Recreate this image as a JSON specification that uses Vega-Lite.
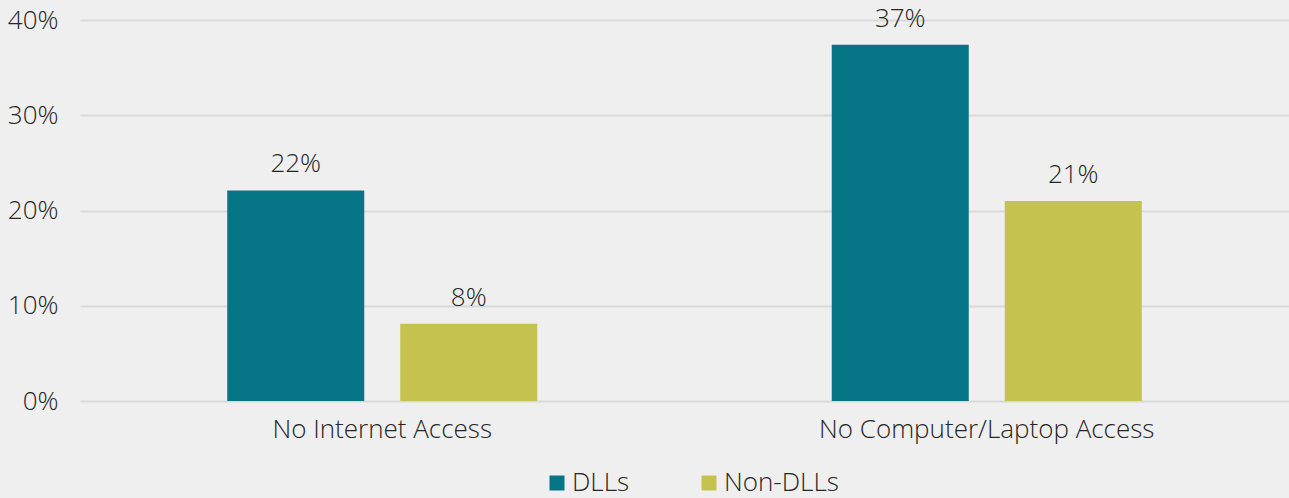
{
  "$schema": "https://vega.github.io/schema/vega-lite/v6.json",
  "width": 1209,
  "height": 381,
  "autosize": {"type": "none"},
  "padding": {"left": 80, "top": 20, "right": 0, "bottom": 97},
  "background": "#efefef",
  "config": {
    "view": {"stroke": null},
    "font": "Open Sans",
    "axis": {"labelFont": "Open Sans", "labelFontWeight": 300, "labelColor": "#262626", "labelFontSize": 26, "labelLimit": 0},
    "legend": {"labelFont": "Open Sans", "labelFontWeight": 300, "labelColor": "#262626", "labelFontSize": 26, "labelLimit": 0}
  },
  "data": {
    "values": [
      {"category": "No Internet Access", "group": "DLLs", "value": 0.221},
      {"category": "No Internet Access", "group": "Non-DLLs", "value": 0.081},
      {"category": "No Computer/Laptop Access", "group": "DLLs", "value": 0.374},
      {"category": "No Computer/Laptop Access", "group": "Non-DLLs", "value": 0.21}
    ]
  },
  "encoding": {
    "x": {
      "field": "category",
      "type": "nominal",
      "sort": ["No Internet Access", "No Computer/Laptop Access"],
      "scale": {"paddingInner": 0, "paddingOuter": 0},
      "axis": {"title": null, "domain": false, "ticks": false, "labelAngle": 0, "labelPadding": 15}
    },
    "xOffset": {
      "field": "group",
      "type": "nominal",
      "sort": ["DLLs", "Non-DLLs"],
      "scale": {"paddingInner": 0.208, "paddingOuter": 0.851}
    },
    "y": {
      "field": "value",
      "type": "quantitative",
      "scale": {"domain": [0, 0.4], "nice": false},
      "axis": {
        "title": null,
        "domain": false,
        "ticks": false,
        "grid": true,
        "gridColor": "#d9d9d9",
        "gridWidth": 2,
        "format": ".0%",
        "values": [0, 0.1, 0.2, 0.3, 0.4],
        "labelPadding": 22
      }
    }
  },
  "layer": [
    {
      "mark": {"type": "bar"},
      "encoding": {
        "color": {
          "field": "group",
          "type": "nominal",
          "sort": ["DLLs", "Non-DLLs"],
          "scale": {"domain": ["DLLs", "Non-DLLs"], "range": ["#067586", "#c5c24f"]},
          "legend": {
            "title": null,
            "orient": "none",
            "direction": "horizontal",
            "legendX": 464,
            "legendY": 450,
            "symbolType": "square",
            "symbolSize": 225,
            "symbolStrokeWidth": 0,
            "labelOffset": 2,
            "columnPadding": 66,
            "padding": 0
          }
        }
      }
    },
    {
      "mark": {"type": "text", "baseline": "alphabetic", "dy": -18, "fontSize": 26, "fontWeight": 300, "color": "#262626"},
      "encoding": {"text": {"field": "value", "type": "quantitative", "format": ".0%"}}
    }
  ]
}
